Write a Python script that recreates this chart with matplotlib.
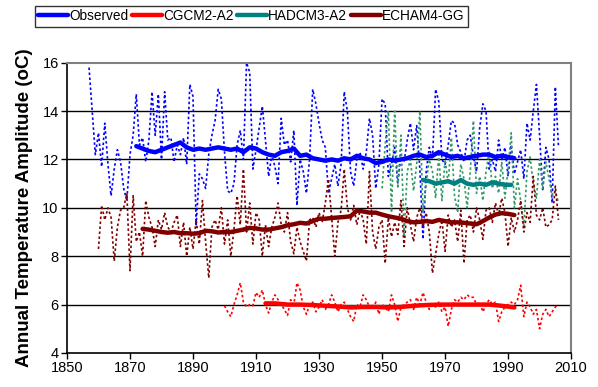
import matplotlib
matplotlib.use("Agg")
import matplotlib.pyplot as plt
import numpy as np

plt.rcParams['font.family'] = ['Liberation Sans', 'DejaVu Sans']

# ---- annual series ----
obs_start = 1857
obs_annual = [15.8, 14.0, 12.2, 13.1, 11.7, 13.5, 11.8, 10.5, 11.6, 12.4,
              11.9, 10.8, 10.3, 12.2, 13.0, 14.7, 12.6, 12.9, 11.9, 12.8,
              14.8, 13.0, 14.7, 12.0, 14.8, 12.8, 12.9, 11.9, 12.6, 12.2,
              12.9, 11.8, 15.1, 14.6, 9.3, 11.4, 11.2, 10.8, 12.2, 13.0,
              13.6, 14.9, 14.5, 12.3, 10.7, 10.6, 11.0, 12.6, 13.2, 12.0,
              16.0, 15.6, 11.6, 12.4, 13.3, 14.2, 12.8, 11.3, 12.2, 11.7,
              11.0, 13.7, 12.6, 12.8, 11.9, 13.2, 10.1, 12.0, 11.5, 10.6,
              12.0, 14.9, 14.3, 13.5, 12.8, 12.5, 10.6, 11.2, 11.8, 10.9,
              11.8, 14.8, 14.0, 11.5, 10.9, 12.0, 12.3, 11.6, 12.3, 13.7,
              13.0, 10.8, 11.8, 14.5, 14.3, 11.3, 11.8, 12.5, 11.0, 12.2,
              11.9, 12.8, 13.5, 12.4, 13.4, 11.6, 8.7, 11.5, 12.5, 12.0,
              14.9, 14.4, 12.0, 11.8, 12.6, 13.6, 13.5, 12.6, 12.3, 11.9,
              12.8, 13.0, 12.1, 11.5, 13.3, 14.3, 14.0, 11.6, 12.0, 11.5,
              12.8, 12.0, 12.5, 11.3, 12.6, 11.4, 11.9, 12.4, 11.2, 13.5,
              12.8, 14.0, 15.1, 13.0, 10.7, 12.5, 12.0, 10.2, 15.0, 12.5]

echam_start = 1860
echam_annual = [8.3, 10.1, 9.5, 10.0, 9.6, 7.8, 9.2, 9.9, 10.0, 10.6,
                7.4, 10.5, 8.6, 9.0, 8.0, 10.3, 9.6, 9.2, 8.4, 9.5,
                9.1, 9.8, 9.2, 9.0, 9.4, 9.7, 8.4, 9.4, 8.0, 9.2,
                8.3, 9.5, 8.5, 10.3, 8.6, 7.1, 9.2, 9.5, 9.1, 10.0,
                8.5, 9.5, 8.0, 9.1, 10.5, 9.3, 11.6, 9.0, 10.2, 8.5,
                9.8, 9.5, 8.0, 9.3, 8.4, 9.2, 9.6, 10.2, 9.3, 9.0,
                9.8, 8.6, 8.1, 9.2, 8.6, 8.2, 7.8, 9.5, 9.6, 9.2,
                9.8, 9.4, 10.2, 11.2, 9.6, 8.0, 9.4, 9.9, 11.6, 10.0,
                9.5, 10.1, 9.3, 9.9, 9.5, 8.5, 11.5, 9.0, 8.3, 9.2,
                9.5, 7.7, 9.6, 8.8, 9.4, 8.9, 10.3, 8.4, 10.0, 9.3,
                8.6, 9.6, 10.0, 9.2, 9.8, 9.0, 7.3, 8.1, 8.9, 9.5,
                8.2, 9.7, 9.2, 9.5, 8.6, 9.9, 7.7, 9.5, 9.7, 9.0,
                10.0, 9.5, 8.7, 9.9, 10.0, 9.4, 10.2, 9.7, 10.4, 9.8,
                8.4, 9.6, 9.0, 9.5, 10.3, 9.0, 9.8, 9.4, 11.3, 9.7,
                9.5, 10.0, 9.2, 9.3, 9.5, 10.9, 9.5]

cgcm_start = 1900
cgcm_annual = [5.95, 5.7, 5.5, 6.0, 6.4, 6.9, 6.1, 5.9, 6.0, 5.95,
               6.5, 6.3, 6.6, 6.0, 5.65, 6.1, 6.4, 6.2, 6.0, 5.8,
               5.55, 6.2, 6.0, 6.9, 6.6, 5.9, 5.6, 6.0, 6.1, 5.7,
               5.9, 6.2, 5.8, 6.0, 6.4, 6.1, 5.7, 6.0, 6.1, 5.8,
               5.5, 5.3, 6.0, 5.9, 6.4, 6.2, 5.9, 5.8, 6.1, 5.6,
               6.0, 5.9, 5.7, 6.4, 6.0, 5.3, 5.9, 6.0, 6.1, 6.2,
               5.8, 6.3, 6.0, 6.5, 6.1, 5.8, 6.0, 5.9, 6.1, 5.7,
               5.9, 5.1, 5.8, 6.2, 6.1, 6.3, 6.2, 6.4, 6.3, 6.3,
               6.0, 6.1, 5.7, 6.0, 6.2, 6.0, 6.1, 5.3, 5.7, 5.9,
               6.0, 6.1, 6.0, 6.2, 6.8, 5.5, 6.1, 5.9, 5.6, 5.8,
               5.0, 5.6, 5.8, 5.5, 5.7, 5.9, 6.0]

hadcm_start = 1950
hadcm_annual = [10.8, 12.6, 14.0, 9.8, 14.0, 10.8, 13.0, 8.9, 11.5, 12.0,
                10.7, 11.8, 14.0, 9.8, 11.0, 12.0, 11.5, 10.4, 12.2, 10.3,
                12.0, 11.0, 12.9, 10.5, 9.8, 11.8, 11.2, 10.0, 11.5, 13.6,
                10.6, 11.3, 10.3, 11.5, 12.3, 10.8, 11.3, 10.6, 11.9, 10.4,
                11.6, 13.1, 10.0, 11.2, 10.3, 9.2, 11.5, 12.1, 11.0, 10.4,
                12.0, 10.8, 11.9, 11.2, 10.5, 10.7, 10.2]

# ---- smoothed (moving-average) series ----
obs_ma_years = [1872, 1874, 1876, 1878, 1880, 1882, 1884, 1886, 1888, 1890,
                1892, 1894, 1896, 1898, 1900, 1902, 1904, 1906, 1908, 1910,
                1912, 1914, 1916, 1918, 1920, 1922, 1924, 1926, 1928, 1930,
                1932, 1934, 1936, 1938, 1940, 1942, 1944, 1946, 1948, 1950,
                1952, 1954, 1956, 1958, 1960, 1962, 1964, 1966, 1968, 1970,
                1972, 1974, 1976, 1978, 1980, 1982, 1984, 1986, 1988, 1990, 1992]
obs_ma = [12.55, 12.45, 12.35, 12.3, 12.4, 12.5, 12.6, 12.7, 12.5, 12.4,
          12.45, 12.4, 12.45, 12.5, 12.45, 12.4, 12.45, 12.3, 12.5, 12.45,
          12.3, 12.2, 12.15, 12.3, 12.35, 12.45, 12.15, 12.2, 12.05, 12.0,
          11.95, 12.0, 11.95, 12.05, 12.0, 12.15, 12.05, 12.0, 11.85, 11.9,
          12.0, 11.95, 12.0, 12.05, 12.15, 12.2, 12.1, 12.15, 12.3, 12.2,
          12.1, 12.15, 12.05, 12.1, 12.15, 12.2, 12.2, 12.1, 12.15, 12.1, 12.05]

echam_ma_years = [1874, 1876, 1878, 1880, 1882, 1884, 1886, 1888, 1890, 1892,
                  1894, 1896, 1898, 1900, 1902, 1904, 1906, 1908, 1910, 1912,
                  1914, 1916, 1918, 1920, 1922, 1924, 1926, 1928, 1930, 1932,
                  1934, 1936, 1938, 1940, 1942, 1944, 1946, 1948, 1950, 1952,
                  1954, 1956, 1958, 1960, 1962, 1964, 1966, 1968, 1970, 1972,
                  1974, 1976, 1978, 1980, 1982, 1984, 1986, 1988, 1990, 1992]
echam_ma = [9.13, 9.1, 9.05, 9.0, 8.97, 9.0, 8.95, 8.95, 8.93, 8.95,
            9.05, 9.03, 8.98, 9.0, 9.0, 9.05, 9.1, 9.17, 9.15, 9.1,
            9.1, 9.15, 9.2, 9.28, 9.32, 9.38, 9.35, 9.45, 9.55, 9.55,
            9.58, 9.6, 9.62, 9.65, 9.88, 9.85, 9.8, 9.8, 9.72, 9.65,
            9.6, 9.55, 9.45, 9.4, 9.42, 9.45, 9.42, 9.5, 9.45, 9.4,
            9.4, 9.38, 9.35, 9.32, 9.45, 9.6, 9.72, 9.78, 9.75, 9.7]

cgcm_ma_years = [1913, 1916, 1920, 1924, 1928, 1932, 1936, 1940, 1944, 1948,
                 1952, 1956, 1960, 1964, 1968, 1972, 1976, 1980, 1984, 1988, 1992]
cgcm_ma = [6.05, 6.05, 6.0, 6.0, 5.98, 5.95, 5.92, 5.88, 5.9, 5.9,
           5.88, 5.9, 5.95, 5.98, 6.0, 6.0, 6.0, 6.0, 6.0, 5.95, 5.88]

hadcm_ma_years = [1963, 1965, 1967, 1969, 1971, 1973, 1975, 1977, 1979, 1981,
                  1983, 1985, 1987, 1989, 1991]
hadcm_ma = [11.15, 11.1, 11.0, 11.05, 11.1, 11.0, 11.15, 11.0, 10.95, 11.0,
            10.95, 11.05, 11.0, 10.95, 10.95]

labels = ["Observed", "CGCM2-A2", "HADCM3-A2", "ECHAM4-GG"]
ma_colors = ["#0000FF", "#FF0000", "#008080", "#800000"]
ann_colors = ["#0000FF", "#FF0000", "#339966", "#800000"]

fig = plt.figure(figsize=(5.98, 3.87), dpi=100)
ax = fig.add_axes([0.112, 0.088, 0.843, 0.750])

dot = (0, (1.5, 1.5))
annual = [(obs_start, obs_annual), (cgcm_start, cgcm_annual),
          (hadcm_start, hadcm_annual), (echam_start, echam_annual)]
for (start, vals), c in zip(annual, ann_colors):
    yrs = np.arange(start, start + len(vals))
    ax.plot(yrs, vals, color=c, lw=1.2, linestyle=dot, zorder=2)

ma = [(obs_ma_years, obs_ma), (cgcm_ma_years, cgcm_ma),
      (hadcm_ma_years, hadcm_ma), (echam_ma_years, echam_ma)]
handles = []
for (yrs, vals), c, lab, z in zip(ma, ma_colors, labels, [6, 4, 5, 4]):
    h, = ax.plot(yrs, vals, color=c, lw=3.2, solid_capstyle='round', zorder=z, label=lab)
    handles.append(h)

ax.set_xlim(1850, 2010)
ax.set_ylim(4, 16)
ax.set_xticks(np.arange(1850, 2011, 20))
ax.set_yticks(np.arange(4, 17, 2))
for yv in [6, 8, 10, 12, 14]:
    ax.axhline(yv, color='black', lw=1.0, zorder=1)

ax.tick_params(axis='both', direction='out', length=4, width=1, labelsize=10.5, pad=2)
for s in ['left', 'bottom']:
    ax.spines[s].set_color('black')
    ax.spines[s].set_linewidth(1.2)
for s in ['top', 'right']:
    ax.spines[s].set_color('#808080')
    ax.spines[s].set_linewidth(1.5)

ax.set_ylabel("Annual Temperature Amplitude (oC)", fontsize=13.5, fontweight='bold', labelpad=7)

leg = fig.legend(handles=handles, labels=labels, loc='upper left',
                 bbox_to_anchor=(0.058, 0.985), bbox_transform=fig.transFigure,
                 ncol=4, fontsize=9.8,
                 frameon=True, fancybox=False, edgecolor='black',
                 handlelength=2.2, handletextpad=0.1, columnspacing=0.25,
                 borderpad=0.25, borderaxespad=0)
leg.get_frame().set_linewidth(1.0)

fig.savefig("out.png", dpi=100)
